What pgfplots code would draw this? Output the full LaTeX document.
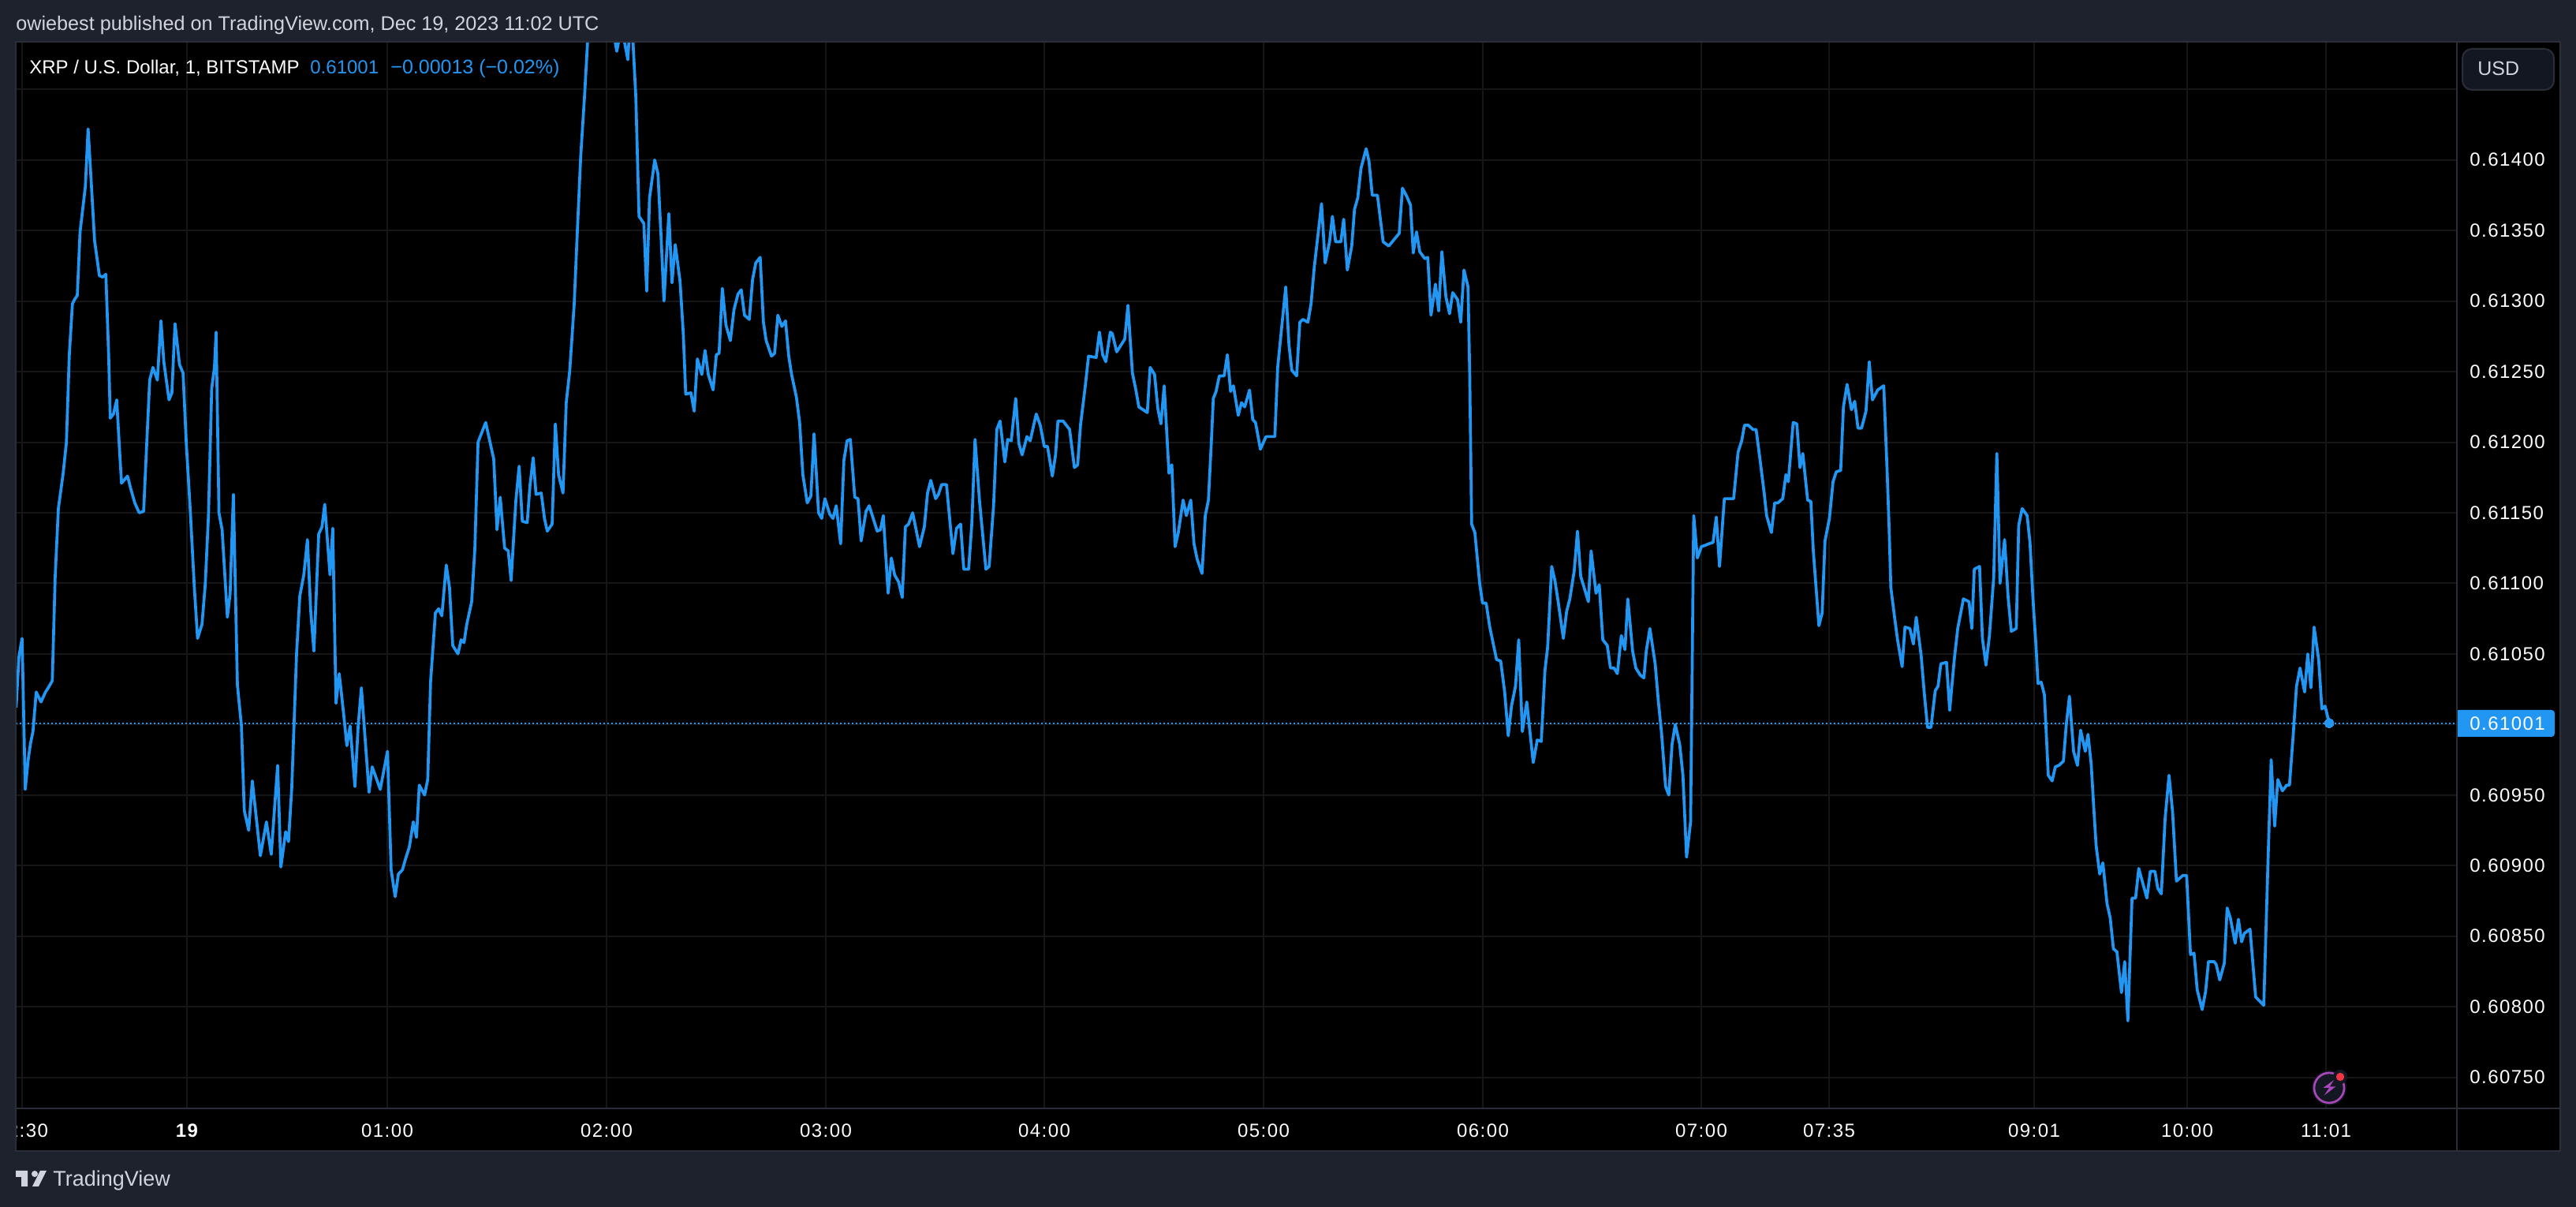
\documentclass[border=0pt]{standalone}
\usepackage{pgfplots}
\pgfplotsset{compat=1.18}
\usepackage{pgfplotstable}
\usepackage{fontspec}
\setmainfont{Liberation Sans}
\newfontfamily\tickf[LetterSpace=6]{Liberation Sans}
\newcommand{\tvtickfont}{\tickf\fontsize{12pt}{12pt}\selectfont}
\definecolor{tvbg}{RGB}{30,34,45}
\definecolor{tvline}{RGB}{42,46,57}
\definecolor{tvgrid}{RGB}{22,22,22}
\definecolor{tvblue}{RGB}{33,150,243}
\definecolor{tvtext}{RGB}{209,212,220}
\definecolor{tvbtn}{RGB}{19,23,34}
\definecolor{tvpurple}{RGB}{171,71,188}
\definecolor{tvred}{RGB}{242,54,69}
\pgfplotstableread{
x y
20.4 0.61012
24 0.61048
28 0.61061
32 0.60954
35.7 0.60975
38.8 0.60987
41.8 0.60995
45.9 0.61023
52 0.61016
57.7 0.61023
61.2 0.61026
66.3 0.61031
69.9 0.61104
74 0.61153
80.1 0.61178
84.2 0.61200
87.8 0.61261
91.8 0.61298
94.4 0.61301
98 0.61304
101.5 0.61349
108.2 0.61381
111.7 0.61422
115.8 0.61383
119.9 0.61343
126 0.61318
130.1 0.61317
134.2 0.61319
137.8 0.61261
139.8 0.61217
143.9 0.61220
148 0.61230
151.5 0.61195
154.1 0.61171
161.7 0.61176
165.8 0.61167
170.9 0.61157
176.5 0.61150
182.1 0.61151
185.7 0.61195
189.8 0.61244
193.9 0.61253
199.5 0.61244
204.1 0.61286
207.7 0.61257
214.3 0.61230
217.9 0.61235
221.9 0.61284
227.6 0.61255
232.1 0.61249
236.2 0.61199
241.3 0.61151
246.4 0.61097
250.5 0.61061
256.1 0.61071
260.2 0.61099
264.3 0.61148
268.4 0.61238
271.9 0.61253
274 0.61278
277.6 0.61150
281.6 0.61138
288.3 0.61076
291.8 0.61093
295.9 0.61163
301 0.61028
306.1 0.60999
309.7 0.60939
315.3 0.60925
319.9 0.60960
330.1 0.60907
337.8 0.60931
343.9 0.60908
352 0.60971
356.1 0.60899
362.2 0.60924
365.8 0.60917
369.9 0.60955
376 0.61050
380.1 0.61091
385.2 0.61106
389.8 0.61131
393.9 0.61081
398 0.61052
404.1 0.61135
408.2 0.61140
411.7 0.61156
418.4 0.61106
421.9 0.61139
426 0.61015
430.1 0.61036
435.2 0.61010
439.8 0.60985
443.9 0.60999
450 0.60956
454.1 0.60999
458.2 0.61026
463.3 0.60987
467.9 0.60952
471.9 0.60970
482.1 0.60954
491.3 0.60981
495.9 0.60897
501 0.60878
505.1 0.60894
510.2 0.60897
514.3 0.60905
518.9 0.60913
524 0.60931
528 0.60920
531.6 0.60957
538.3 0.60950
542.3 0.60961
545.9 0.61030
552 0.61079
556.1 0.61082
560.2 0.61077
565.8 0.61113
569.9 0.61097
574 0.61056
580.6 0.61050
584.7 0.61060
588.3 0.61058
591.8 0.61071
598 0.61087
602 0.61124
606.1 0.61200
615.8 0.61214
626 0.61188
630.1 0.61138
634.2 0.61161
639.8 0.61125
644.4 0.61123
648 0.61102
654.1 0.61159
658.2 0.61183
662.2 0.61144
668.4 0.61143
671.9 0.61169
676 0.61189
679.6 0.61163
686.2 0.61164
690.3 0.61146
693.9 0.61137
700 0.61142
704.1 0.61213
708.2 0.61177
713.8 0.61164
717.9 0.61228
722.4 0.61251
728 0.61298
732.1 0.61351
736.2 0.61402
741.3 0.61447
744.9 0.61483
749 0.61510
755 0.61525
760 0.61530
772 0.61505
778 0.61490
782 0.61477
788 0.61495
796 0.61471
799 0.61500
802.6 0.61483
806.1 0.61445
810.2 0.61360
816.3 0.61355
819.9 0.61307
823.5 0.61373
830.1 0.61400
834.2 0.61390
838.3 0.61344
841.8 0.61300
848 0.61362
852 0.61313
856.1 0.61340
862.2 0.61314
866.3 0.61277
869.4 0.61234
876 0.61235
880.1 0.61222
884.2 0.61259
889.8 0.61248
893.9 0.61265
898 0.61248
904.1 0.61237
908.2 0.61262
911.7 0.61263
915.8 0.61309
920.4 0.61283
926 0.61272
930.6 0.61294
935.7 0.61305
939.8 0.61308
943.9 0.61290
950 0.61287
954.1 0.61315
958.2 0.61327
963.8 0.61331
967.9 0.61285
971.4 0.61272
978.1 0.61261
982.1 0.61263
986.2 0.61290
991.3 0.61282
995.9 0.61286
1000 0.61261
1003.6 0.61248
1009.7 0.61232
1013.8 0.61214
1017.9 0.61177
1023.5 0.61157
1028.1 0.61162
1032.1 0.61206
1037.8 0.61150
1041.8 0.61146
1045.9 0.61160
1052 0.61149
1056.1 0.61146
1060.2 0.61155
1065.8 0.61128
1069.9 0.61187
1074 0.61201
1078.1 0.61202
1083.7 0.61161
1087.8 0.61160
1091.8 0.61130
1098 0.61151
1102 0.61155
1112.2 0.61137
1116.3 0.61138
1119.9 0.61148
1126 0.61093
1130.1 0.61118
1134.2 0.61106
1139.3 0.61101
1143.9 0.61090
1147.9 0.61140
1152 0.61142
1157.1 0.61150
1165.8 0.61126
1171.9 0.61140
1176 0.61164
1180.1 0.61173
1186.2 0.61160
1189.8 0.61163
1193.9 0.61170
1200 0.61170
1208.2 0.61121
1212.8 0.61139
1217.9 0.61142
1221.9 0.61110
1228.1 0.61110
1232.1 0.61142
1236.2 0.61202
1241.8 0.61159
1250 0.61110
1254.1 0.61112
1259.7 0.61155
1263.8 0.61209
1267.9 0.61215
1274 0.61186
1277.6 0.61202
1282.1 0.61201
1287.8 0.61231
1291.8 0.61199
1295.9 0.61191
1302 0.61204
1306.1 0.61201
1313.8 0.61220
1318.9 0.61212
1324 0.61197
1328.1 0.61197
1334.2 0.61176
1338.3 0.61191
1341.3 0.61215
1347.9 0.61215
1356.1 0.61209
1362.2 0.61182
1366.3 0.61184
1369.9 0.61212
1376 0.61240
1380.1 0.61261
1389.8 0.61260
1393.9 0.61278
1398 0.61262
1402 0.61257
1407.7 0.61278
1410.2 0.61277
1415.8 0.61264
1426 0.61273
1430.1 0.61297
1435.7 0.61249
1439.8 0.61238
1443.9 0.61225
1454.6 0.61221
1458.2 0.61253
1463.8 0.61248
1467.9 0.61224
1471.9 0.61213
1476 0.61240
1482.1 0.61178
1485.7 0.61184
1489.8 0.61126
1493.9 0.61136
1500 0.61159
1504.1 0.61148
1509.7 0.61159
1513.8 0.61128
1517.9 0.61117
1524 0.61107
1528.1 0.61148
1532.1 0.61159
1535.7 0.61199
1538.3 0.61231
1541.8 0.61236
1545.9 0.61247
1552 0.61247
1556.1 0.61262
1560.2 0.61236
1563.8 0.61240
1569.9 0.61219
1574 0.61228
1578.1 0.61225
1584.2 0.61237
1588.3 0.61216
1591.8 0.61214
1598 0.61195
1605.1 0.61204
1610.2 0.61204
1616.3 0.61204
1619.9 0.61253
1630.1 0.61310
1634.2 0.61269
1637.8 0.61251
1643.9 0.61247
1648 0.61285
1652 0.61287
1658.2 0.61285
1662.2 0.61298
1666.3 0.61324
1675.5 0.61369
1680.1 0.61327
1685.7 0.61342
1689.3 0.61360
1693.4 0.61342
1700 0.61342
1703.6 0.61358
1708.2 0.61322
1713.8 0.61339
1717.3 0.61365
1721.4 0.61373
1725.5 0.61394
1732.1 0.61408
1735.7 0.61399
1739.8 0.61375
1746.4 0.61375
1753.6 0.61342
1760.7 0.61339
1774 0.61348
1778.1 0.61380
1783.7 0.61374
1788.3 0.61368
1791.8 0.61334
1795.9 0.61349
1800 0.61335
1806.6 0.61330
1810.2 0.61331
1814.3 0.61290
1819.9 0.61312
1824 0.61293
1828.1 0.61335
1833.2 0.61303
1837.8 0.61291
1841.8 0.61306
1848 0.61301
1852 0.61285
1856.1 0.61322
1861.2 0.61310
1863.3 0.61251
1865.8 0.61142
1869.9 0.61136
1876 0.61100
1879.6 0.61086
1884.2 0.61086
1888.8 0.61069
1897.4 0.61046
1902.6 0.61045
1907.7 0.61023
1912.2 0.60992
1916.3 0.61013
1921.4 0.61027
1925.5 0.61060
1930.1 0.60995
1935.7 0.61016
1943.9 0.60973
1949 0.60989
1954.1 0.60988
1958.7 0.61038
1962.2 0.61055
1967.3 0.61112
1971.4 0.61102
1975.5 0.61087
1982.1 0.61061
1986.2 0.61080
1990.3 0.61089
1995.9 0.61109
2000 0.61137
2004.1 0.61105
2013.8 0.61087
2017.3 0.61123
2023.5 0.61093
2027.6 0.61099
2032.1 0.61060
2037.8 0.61056
2041.8 0.61040
2046.4 0.61040
2050.5 0.61036
2055.6 0.61063
2060.2 0.61053
2063.8 0.61089
2069.9 0.61052
2074 0.61040
2079.6 0.61035
2084.2 0.61033
2087.2 0.61052
2091.8 0.61068
2098.5 0.61043
2102.6 0.61016
2106.6 0.60994
2111.7 0.60956
2115.8 0.60950
2119.9 0.60986
2124 0.61000
2129.6 0.60986
2133.7 0.60964
2138.3 0.60906
2143.4 0.60931
2147.4 0.61148
2152 0.61118
2157.1 0.61126
2162.2 0.61127
2166.3 0.61128
2171.9 0.61129
2176 0.61147
2180.1 0.61112
2186.2 0.61160
2192.9 0.61160
2198 0.61160
2203.6 0.61193
2208.2 0.61201
2211.7 0.61212
2216.8 0.61212
2222.4 0.61209
2226.5 0.61209
2231.6 0.61187
2236.7 0.61164
2239.8 0.61148
2245.9 0.61136
2250 0.61157
2254.1 0.61157
2260.2 0.61160
2264.3 0.61177
2267.3 0.61172
2273.5 0.61214
2278.1 0.61213
2282.1 0.61182
2285.7 0.61192
2291.8 0.61159
2295.9 0.61158
2299 0.61123
2306.1 0.61070
2310.2 0.61079
2313.8 0.61130
2319.4 0.61146
2324 0.61172
2328.1 0.61179
2333.7 0.61180
2337.2 0.61225
2341.8 0.61241
2347.4 0.61223
2351.5 0.61229
2355.6 0.61210
2360.2 0.61210
2365.8 0.61222
2369.9 0.61257
2374 0.61230
2380.6 0.61237
2388.3 0.61240
2392.4 0.61182
2395 0.61141
2397.3 0.61097
2401.8 0.61077
2405.8 0.61060
2411.6 0.61041
2415.2 0.61069
2421.4 0.61068
2425.9 0.61057
2429.5 0.61076
2435.7 0.61049
2439.7 0.61022
2443.8 0.60998
2448.2 0.60998
2453.6 0.61024
2457.1 0.61027
2460.7 0.61043
2467.9 0.61044
2471.9 0.61010
2477.7 0.61046
2482.1 0.61068
2489.3 0.61089
2496.4 0.61087
2500 0.61068
2503.1 0.61110
2509.8 0.61112
2513.4 0.61061
2517.9 0.61042
2522.3 0.61063
2527.7 0.61104
2531.7 0.61192
2535.7 0.61100
2541.5 0.61131
2546 0.61090
2550 0.61066
2556.3 0.61068
2559.4 0.61141
2563.8 0.61153
2570.1 0.61148
2573.7 0.61129
2577.7 0.61087
2581.3 0.61056
2583.9 0.61029
2587.9 0.61030
2592 0.61021
2596.9 0.60964
2601.8 0.60960
2605.8 0.60970
2610.3 0.60971
2616.1 0.60974
2619.6 0.60999
2623.7 0.61020
2629 0.60981
2633.9 0.60971
2637.9 0.60996
2643.8 0.60981
2647.3 0.60993
2651.3 0.60972
2654.9 0.60938
2657.6 0.60914
2662.1 0.60894
2666.1 0.60902
2671.4 0.60873
2675.4 0.60863
2679.5 0.60841
2683.9 0.60839
2689.7 0.60810
2693.8 0.60832
2697.8 0.60790
2703.1 0.60877
2707.6 0.60877
2711.6 0.60898
2721.9 0.60877
2726.3 0.60896
2732.1 0.60896
2735.7 0.60884
2740.2 0.60880
2745.1 0.60934
2750 0.60964
2754.5 0.60938
2759.4 0.60889
2767.4 0.60893
2772.3 0.60893
2777.2 0.60837
2781.7 0.60838
2785.7 0.60812
2792 0.60798
2796.4 0.60811
2800 0.60832
2807.1 0.60832
2809.8 0.60830
2814.3 0.60819
2820.1 0.60831
2823.7 0.60870
2827.7 0.60863
2833.9 0.60845
2838 0.60862
2842 0.60846
2845.5 0.60852
2852.7 0.60855
2859.8 0.60807
2870.1 0.60801
2875.9 0.60911
2879.5 0.60975
2883.9 0.60928
2887.9 0.60961
2893.8 0.60953
2899.1 0.60957
2902.7 0.60957
2907.1 0.60990
2911.6 0.61027
2916.1 0.61040
2921.9 0.61023
2925.9 0.61050
2929.9 0.61026
2933.9 0.61069
2939.7 0.61046
2943.8 0.61011
2947.8 0.61013
2953.1 0.61001
}\pricedata
\begin{document}
\begin{tikzpicture}[
  refpx/.style={x=0.5pt,y=-0.5pt,shift={(0pt,765pt)}}]
\path[use as bounding box] (0pt,0pt) rectangle (1633pt,765pt);
\begin{scope}[refpx]
  \fill[tvbg] (0,0) rectangle (3266,1530);
  \fill[black] (20,53) rectangle (3246,1459);
\end{scope}
\begin{axis}[
  at={(10pt,62.5pt)}, anchor=south west,
  width=1547.5pt, height=676pt, scale only axis,
  xmin=20, xmax=3115, ymin=0.607280, ymax=0.614837,
  axis line style={draw=tvline, line width=1pt},
  axis y line*=right, axis x line*=bottom,
  grid=major, grid style={tvgrid, line width=1pt},
  major tick length=0pt,
  xtick={28,237,491,769,1047,1324,1602,1880,2157,2319,2579,2773,2949},
  xticklabels={22:30,\bfseries 19,01:00,02:00,03:00,04:00,05:00,06:00,07:00,07:35,09:01,10:00,11:01},
  ytick={0.6075,0.6080,0.6085,0.6090,0.6095,0.6100,0.6105,0.6110,0.6115,0.6120,0.6125,0.6130,0.6135,0.6140,0.6145},
  yticklabels={0.60750,0.60800,0.60850,0.60900,0.60950,,0.61050,0.61100,0.61150,0.61200,0.61250,0.61300,0.61350,0.61400,},
  x tick label style={font=\tvtickfont, text=white, anchor=base, yshift=-18.3pt, inner sep=0pt},
  y tick label style={font=\tvtickfont, text=white, anchor=west, xshift=8pt, inner sep=0pt},
  clip=true,
]
\addplot[tvblue, line width=1pt, dash pattern=on 1.1pt off 1.4pt, forget plot] coordinates {(20,0.61001) (3115,0.61001)};
\addplot[tvblue, line width=1.85pt, line join=round, no markers] table[x=x,y=y] {\pricedata};
\addplot[only marks, mark=*, mark size=2.85pt, mark options={fill=tvblue, draw=tvblue, line width=0pt}, forget plot] coordinates {(2953.1,0.61001)};
\end{axis}
\begin{scope}[refpx]
  % frame
  \fill[tvbg] (0,40) rectangle (19,1530);
  \draw[tvline, line width=1pt] (20,53) -- (3246,53) -- (3246,1459) -- (20,1459) -- cycle;
  \draw[tvline, line width=1pt] (3115,53) -- (3115,1459);
  \draw[tvline, line width=1pt] (20,1405) -- (3246,1405);
  % header and legend
  \node[anchor=base west, inner sep=0pt, text=tvtext, font=\fontsize{12.6pt}{12.6pt}\selectfont] at (20,39) {owiebest published on TradingView.com, Dec 19, 2023 11:02 UTC};
  \node[anchor=base west, inner sep=0pt, text=white, font=\fontsize{12pt}{12pt}\selectfont] at (37,94) {XRP / U.S. Dollar, 1, BITSTAMP};
  \node[anchor=base west, inner sep=0pt, text=tvblue, font=\fontsize{12pt}{12pt}\selectfont] at (393,94) {0.61001};
  \node[anchor=base west, inner sep=0pt, text=tvblue, font=\fontsize{12.5pt}{12.5pt}\selectfont] at (495,94) {−0.00013 (−0.02\%)};
  % USD button
  \filldraw[fill=tvbtn, draw=tvline, line width=1pt, rounded corners=6pt] (3122,62) rectangle (3238,114);
  \node[anchor=base west, inner sep=0pt, text=tvtext, font=\fontsize{12.5pt}{12.5pt}\selectfont] at (3141,96) {USD};
  % last price label
  \fill[tvblue, rounded corners=2pt] (3116,900) rectangle (3239,934);
  \fill[tvblue] (3116,900) rectangle (3130,934);
  \node[anchor=west, inner sep=0pt, font=\tvtickfont, text=white] at (3131,917) {0.61001};
  % lightning icon
  \fill[tvbtn] (2953,1379) circle[radius=11pt];
  \draw[tvpurple, line width=1.3pt] (2953,1379) circle[radius=9.5pt];
  \fill[tvpurple] (2959,1369) -- (2945.5,1379) -- (2953,1379) -- (2946.6,1388.7) -- (2961.4,1377.3) -- (2953.8,1377.3) -- cycle;
  \fill[tvbtn] (2967,1365) circle[radius=4.6pt];
  \fill[tvred] (2967,1365) circle[radius=2.6pt];
  % TradingView logo
  \fill[tvtext] (20,1484) -- (35,1484) -- (35,1504) -- (27,1504) -- (27,1492) -- (20,1492) -- cycle;
  \fill[tvtext] (44,1488) circle[radius=2pt];
  \fill[tvtext] (51,1484) -- (59,1484) -- (49,1504) -- (41,1504) -- cycle;
  \node[anchor=base west, inner sep=0pt, text=tvtext, font=\fontsize{13.5pt}{13.5pt}\selectfont] at (67,1504) {TradingView};
\end{scope}
\end{tikzpicture}
\end{document}
